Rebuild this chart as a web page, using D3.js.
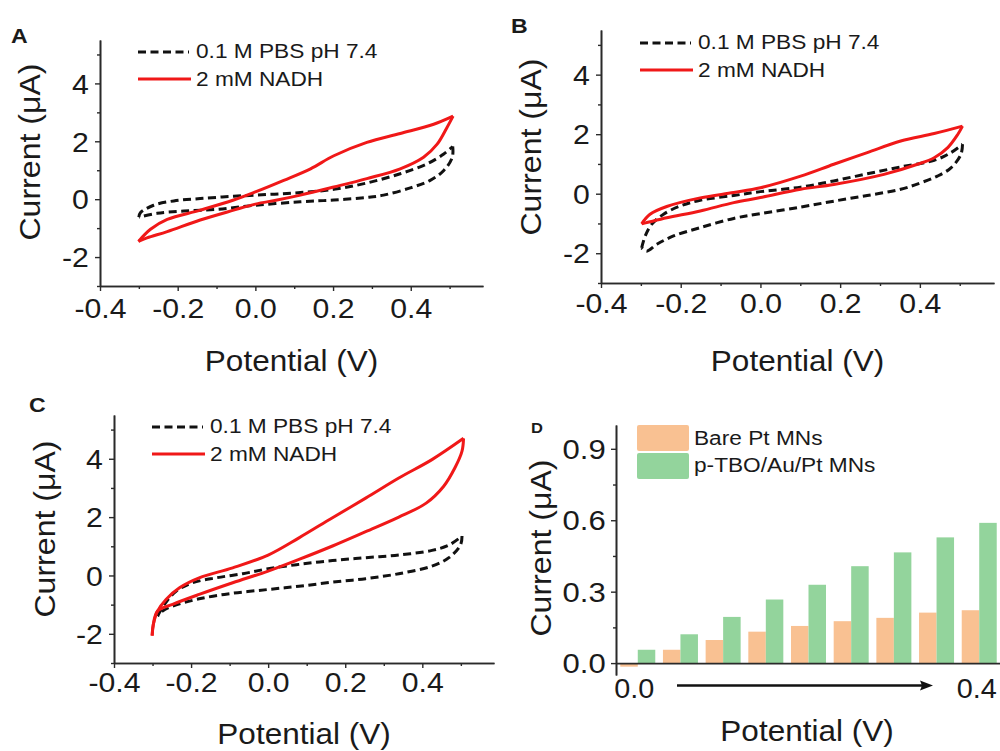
<!DOCTYPE html>
<html>
<head>
<meta charset="utf-8">
<script src="https://d3js.org/d3.v7.min.js"></script>
<style>
  body { margin: 0; background: #fff; }
  text { font-family: "Liberation Sans", Arial, sans-serif; fill: #1a1a1a; }
</style>
</head>
<body>
<script>
// ---- data (potential V, current uA), forward + reverse branch of each CV loop ----
var aPbsFwd = [[-0.300,-0.62],[-0.296,-0.47],[-0.262,-0.21],[-0.210,-0.06],[-0.142,0.02],[-0.056,0.10],[0.030,0.16],[0.116,0.23],[0.202,0.34],[0.287,0.56],[0.373,0.88],[0.442,1.22],[0.485,1.56],[0.508,1.82]];
var aPbsRev = [[0.508,1.82],[0.507,1.45],[0.485,0.99],[0.450,0.65],[0.399,0.39],[0.330,0.14],[0.287,0.06],[0.202,-0.03],[0.116,-0.09],[0.000,-0.21],[-0.099,-0.35],[-0.184,-0.41],[-0.253,-0.49],[-0.300,-0.62]];
var aNadhFwd = [[-0.301,-1.46],[-0.270,-1.04],[-0.227,-0.70],[-0.142,-0.38],[-0.056,-0.03],[0.000,0.25],[0.073,0.65],[0.142,1.05],[0.202,1.50],[0.287,1.96],[0.373,2.27],[0.459,2.59],[0.509,2.87]];
var aNadhRev = [[0.509,2.87],[0.493,2.47],[0.468,1.90],[0.433,1.45],[0.373,1.05],[0.287,0.71],[0.202,0.42],[0.116,0.14],[0.056,-0.03],[0.000,-0.17],[-0.056,-0.38],[-0.142,-0.72],[-0.227,-1.12],[-0.279,-1.34],[-0.301,-1.46]];

var bPbsFwd = [[-0.298,-1.82],[-0.289,-1.42],[-0.273,-1.03],[-0.243,-0.69],[-0.201,-0.41],[-0.151,-0.22],[-0.067,-0.06],[0.000,0.07],[0.101,0.22],[0.184,0.43],[0.268,0.67],[0.352,0.90],[0.436,1.12],[0.478,1.38],[0.507,1.66]];
var bPbsRev = [[0.507,1.66],[0.503,1.32],[0.478,0.87],[0.444,0.59],[0.403,0.37],[0.352,0.15],[0.268,-0.06],[0.184,-0.25],[0.101,-0.45],[0.000,-0.67],[-0.067,-0.83],[-0.151,-1.14],[-0.218,-1.42],[-0.260,-1.70],[-0.285,-1.93],[-0.298,-1.82]];
var bNadhFwd = [[-0.298,-1.01],[-0.277,-0.69],[-0.235,-0.43],[-0.151,-0.14],[-0.067,0.04],[0.000,0.20],[0.101,0.59],[0.184,0.99],[0.268,1.38],[0.352,1.77],[0.436,2.02],[0.507,2.27]];
var bNadhRev = [[0.507,2.27],[0.495,1.99],[0.470,1.55],[0.436,1.21],[0.394,0.99],[0.310,0.65],[0.184,0.31],[0.101,0.15],[0.000,-0.13],[-0.067,-0.30],[-0.151,-0.58],[-0.235,-0.81],[-0.285,-0.97],[-0.298,-1.01]];

var cPbsFwd = [[-0.287,-1.39],[-0.269,-0.99],[-0.239,-0.54],[-0.196,-0.25],[-0.135,-0.08],[-0.066,0.06],[0.000,0.23],[0.080,0.38],[0.167,0.51],[0.253,0.61],[0.339,0.70],[0.425,0.86],[0.469,1.04],[0.503,1.35]];
var cPbsRev = [[0.503,1.35],[0.499,1.04],[0.469,0.61],[0.425,0.32],[0.339,0.06],[0.253,-0.11],[0.167,-0.23],[0.080,-0.37],[0.000,-0.48],[-0.092,-0.61],[-0.179,-0.80],[-0.248,-1.05],[-0.274,-1.22],[-0.287,-1.39]];
var cNadhFwd = [[-0.301,-2.06],[-0.298,-1.68],[-0.287,-1.22],[-0.265,-0.82],[-0.230,-0.42],[-0.179,-0.08],[-0.092,0.26],[0.000,0.70],[0.080,1.29],[0.167,1.98],[0.253,2.65],[0.339,3.34],[0.425,3.97],[0.507,4.70]];
var cNadhRev = [[0.507,4.70],[0.503,4.26],[0.485,3.70],[0.455,3.05],[0.410,2.48],[0.339,2.00],[0.253,1.50],[0.167,1.01],[0.080,0.55],[0.000,0.15],[-0.092,-0.25],[-0.179,-0.65],[-0.248,-0.99],[-0.287,-1.22],[-0.298,-1.68],[-0.301,-2.06]];

// panel D bars
var potentials = [0.0, 0.05, 0.10, 0.15, 0.20, 0.25, 0.30, 0.35, 0.40];
var bareCurrent = [-0.015, 0.056, 0.097, 0.132, 0.156, 0.176, 0.190, 0.212, 0.222];
var tboCurrent = [0.056, 0.121, 0.194, 0.267, 0.329, 0.407, 0.465, 0.528, 0.589];

// ticks / labels
var cvXTicks = [-0.4, -0.2, 0.0, 0.2, 0.4];
var cvXMinor = [-0.3, -0.1, 0.1, 0.3, 0.5];
var cvYTicks = [-2, 0, 2, 4];
var cvYMinor = [-3, -1, 1, 3, 5];
var dYTicks = [0.0, 0.3, 0.6, 0.9];
var dYMinor = [0.15, 0.45, 0.75];
var legendCV = ["0.1 M PBS pH 7.4", "2 mM NADH"];
var legendD = ["Bare Pt MNs", "p-TBO/Au/Pt MNs"];

var RED = "#f01818", BLACK = "#111", ORANGE = "#f9c192", GREEN = "#93d49c";

var svg = d3.select("body").append("svg").attr("width", 1000).attr("height", 751);

// text helper, sx stretches glyphs horizontally like the original
function label(x, y, s, size, anchor, sx, rot, weight) {
	var t = "translate(" + x + "," + y + ")";
	if (rot) t += " rotate(" + rot + ")";
	t += " scale(" + (sx || 1) + ",1)";
	return svg.append("text")
		.attr("transform", t)
		.attr("text-anchor", anchor || "start")
		.style("font-size", size + "px")
		.style("font-weight", weight || "normal")
		.text(s);
}

function styleAxis(g) {
	g.select(".domain").attr("stroke", "#2a2a2a").attr("stroke-width", 1.6);
	g.selectAll(".tick line").attr("stroke", "#2a2a2a").attr("stroke-width", 1.4);
}

function cvPanel(p) {
	var x = d3.scaleLinear().domain([-0.4, 0.586]).range([p.x0, p.x1]);
	var y = d3.scaleLinear().domain([-3, 5.5]).range([p.y0, p.y1]);

	// minor ticks first
	var mx = svg.append("g").attr("transform", "translate(0," + p.y0 + ")")
		.call(d3.axisBottom(x).tickValues(cvXMinor).tickSize(3).tickSizeOuter(0).tickFormat(""));
	styleAxis(mx);
	var my = svg.append("g").attr("transform", "translate(" + p.x0 + ",0)")
		.call(d3.axisLeft(y).tickValues(cvYMinor).tickSize(3).tickSizeOuter(0).tickFormat(""));
	styleAxis(my);

	// x axis
	var gx = svg.append("g").attr("transform", "translate(0," + p.y0 + ")")
		.call(d3.axisBottom(x).tickValues(cvXTicks).tickSize(5).tickSizeOuter(0)
			.tickFormat(function(d) { return d.toFixed(1); }));
	styleAxis(gx);
	gx.selectAll(".tick text")
		.attr("y", p.xLab).attr("dy", 0)
		.attr("transform", "scale(1.12,1)")
		.style("font-size", "27px").style("font-family", "Liberation Sans, Arial").attr("fill", "#1a1a1a");

	// y axis
	var gy = svg.append("g").attr("transform", "translate(" + p.x0 + ",0)")
		.call(d3.axisLeft(y).tickValues(cvYTicks).tickSize(5).tickSizeOuter(0)
			.tickFormat(function(d) { return String(d); }));
	styleAxis(gy);
	gy.selectAll(".tick text")
		.attr("x", -10).attr("dy", "0.36em")
		.attr("transform", "scale(1.12,1)")
		.style("font-size", "27px").style("font-family", "Liberation Sans, Arial").attr("fill", "#1a1a1a");

	// titles
	label((p.x0 + p.x1) / 2, p.xTitle, "Potential (V)", 30, "middle", 1.05);
	label(p.yTitleX, p.yTitleY, "Current (\u03bcA)", 30, "middle", 1.07, -90);
	label(p.letterX, p.letterY, p.letter, 21, "start", 1.1, 0, "bold");

	// curves
	var line = d3.line()
		.x(function(d) { return x(d[0]); })
		.y(function(d) { return y(d[1]); })
		.curve(d3.curveCatmullRom.alpha(0.5));

	[p.pbs[0], p.pbs[1]].forEach(function(arr) {
		svg.append("path").attr("d", line(arr))
			.attr("fill", "none").attr("stroke", BLACK).attr("stroke-width", 3)
			.attr("stroke-dasharray", "8,4.5");
	});
	[p.nadh[0], p.nadh[1]].forEach(function(arr) {
		svg.append("path").attr("d", line(arr))
			.attr("fill", "none").attr("stroke", RED).attr("stroke-width", 3)
			.attr("stroke-linejoin", "round");
	});

	// legend
	svg.append("line").attr("x1", p.legX).attr("x2", p.legX + 51)
		.attr("y1", p.legY).attr("y2", p.legY)
		.attr("stroke", BLACK).attr("stroke-width", 3).attr("stroke-dasharray", "8,4.5");
	label(p.legX + 58, p.legY + 6.3, legendCV[0], 21, "start", 1.08);
	svg.append("line").attr("x1", p.legX).attr("x2", p.legX + 53)
		.attr("y1", p.legY + 27).attr("y2", p.legY + 27)
		.attr("stroke", RED).attr("stroke-width", 3);
	label(p.legX + 58, p.legY + 34, legendCV[1], 21, "start", 1.08);
}

cvPanel({ x0: 100, x1: 483, y0: 286, y1: 40, xLab: 32, xTitle: 371, yTitleX: 40, yTitleY: 152,
	letter: "A", letterX: 11, letterY: 43, legX: 138, legY: 52,
	pbs: [aPbsFwd, aPbsRev], nadh: [aNadhFwd, aNadhRev] });
cvPanel({ x0: 601, x1: 994, y0: 283, y1: 30, xLab: 30, xTitle: 371, yTitleX: 541, yTitleY: 147,
	letter: "B", letterX: 511, letterY: 33, legX: 640, legY: 43,
	pbs: [bPbsFwd, bPbsRev], nadh: [bNadhFwd, bNadhRev] });
cvPanel({ x0: 114, x1: 494, y0: 663, y1: 415, xLab: 29, xTitle: 744, yTitleX: 55, yTitleY: 529,
	letter: "C", letterX: 29, letterY: 412, legX: 152, legY: 427,
	pbs: [cPbsFwd, cPbsRev], nadh: [cNadhFwd, cNadhRev] });

// ---- panel D: bar chart ----
var xb = d3.scaleBand().domain(potentials).range([616, 1001]).paddingInner(0.18).paddingOuter(0.1);
var xs = d3.scaleBand().domain(["bare", "tbo"]).range([0, xb.bandwidth()]);
var yb = d3.scaleLinear().domain([-0.05, 1.0]).range([675, 425]);

var barData = [];
potentials.forEach(function(p, i) {
	barData.push({ p: p, k: "bare", v: bareCurrent[i] });
	barData.push({ p: p, k: "tbo", v: tboCurrent[i] });
});

svg.selectAll(".bar").data(barData).enter().append("rect")
	.attr("x", function(d) { return xb(d.p) + xs(d.k); })
	.attr("width", xs.bandwidth())
	.attr("y", function(d) { return yb(Math.max(0, d.v)); })
	.attr("height", function(d) { return Math.abs(yb(d.v) - yb(0)); })
	.attr("fill", function(d) { return d.k == "bare" ? ORANGE : GREEN; });

// y axis D
var dMinor = svg.append("g").attr("transform", "translate(616,0)")
	.call(d3.axisLeft(yb).tickValues(dYMinor).tickSize(3).tickSizeOuter(0).tickFormat(""));
styleAxis(dMinor);
var dY = svg.append("g").attr("transform", "translate(616,0)")
	.call(d3.axisLeft(yb).tickValues(dYTicks).tickSize(5).tickSizeOuter(0)
		.tickFormat(function(d) { return d.toFixed(1); }));
styleAxis(dY);
dY.selectAll(".tick text")
	.attr("x", -9).attr("dy", "0.36em")
	.attr("transform", "scale(1.15,1)")
	.style("font-size", "27px").style("font-family", "Liberation Sans, Arial").attr("fill", "#1a1a1a");

// zero line
var dX = svg.append("g").attr("transform", "translate(0," + yb(0) + ")")
	.call(d3.axisBottom(xb).tickSize(0).tickSizeOuter(0).tickFormat(""));
styleAxis(dX);

// end labels + arrow
label(xb(potentials[0]) - 6, 698, potentials[0].toFixed(1), 28, "start", 1.03);
label(xb(potentials[potentials.length - 1]) + xb.bandwidth(), 698, potentials[potentials.length - 1].toFixed(1), 28, "end", 1.03);
svg.append("line").attr("x1", 677).attr("x2", 924).attr("y1", 685.5).attr("y2", 685.5)
	.attr("stroke", "#111").attr("stroke-width", 2.5);
svg.append("path").attr("d", "M933,685.5 L920,680.5 L922,685.5 L920,690.5 Z").attr("fill", "#111");

label(807, 741, "Potential (V)", 30, "middle", 1.05);
label(551, 548, "Current (\u03bcA)", 30, "middle", 1.07, -90);
label(531, 433, "D", 15, "start", 1.1, 0, "bold");

// legend D
svg.append("rect").attr("x", 637).attr("y", 425).attr("width", 52).attr("height", 26).attr("rx", 2).attr("fill", ORANGE);
svg.append("rect").attr("x", 637).attr("y", 453).attr("width", 52).attr("height", 26).attr("rx", 2).attr("fill", GREEN);
label(694, 445, legendD[0], 21, "start", 1.08);
label(694, 472, legendD[1], 21, "start", 1.08);
</script>
</body>
</html>
